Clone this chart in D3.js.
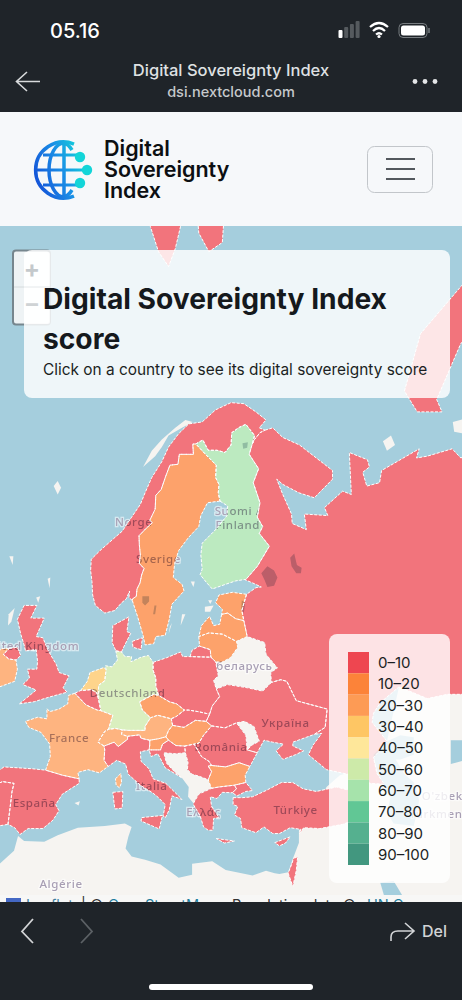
<!DOCTYPE html>
<html>
<head>
<meta charset="utf-8">
<title>Digital Sovereignty Index</title>
<script src="https://cdn.jsdelivr.net/npm/d3@7"></script>
<style>
  html, body { margin: 0; padding: 0; background: #1f2429; }
  svg { display: block; }
  text { font-family: Inter, "Noto Sans", sans-serif; }
</style>
</head>
<body>
<div id="chart"></div>
<script>
// ---- legend ----
const legendLabels = ['0–10', '10–20', '20–30', '30–40', '40–50', '50–60', '60–70', '70–80', '80–90', '90–100'];
const legendColors = ['#ee4650', '#fc8339', '#fd9b55', '#fec664', '#fee79a', '#cdeaa9', '#a6e3ab', '#61c795', '#55b08f', '#42977f'];
const legendBreaks = [10, 20, 30, 40, 50, 60, 70, 80, 90];

// ---- shared borders, [lon, lat] ----
const noSe = [[20.55,69.06],[20.1,69.05],[20.2,68.5],[18.1,68.5],[17.9,67.95],[16.7,67.9],[16.1,67.3],[15.4,66.5],[14.6,66.15],[14.5,65.3],[13.7,64.6],[14.1,64.45],[13.2,64.1],[12.1,63.6],[12.15,63.0],[12.3,62.3],[12.15,61.7],[12.85,61.35],[12.5,60.9],[12.25,60.3],[11.8,59.85],[11.7,59.3],[11.15,59.1],[11.1,58.98]];
const noFi = [[20.55,69.06],[21.6,69.27],[22.4,68.72],[23.7,68.72],[24.9,68.6],[25.8,69.0],[25.9,69.65],[27.0,69.92],[28.0,70.08],[29.3,69.5],[28.95,69.05]];
const noRu = [[28.95,69.05],[29.3,69.3],[30.1,69.65],[30.85,69.78]];
const fiSe = [[20.55,69.06],[22.0,68.5],[23.6,67.9],[23.5,67.2],[24.0,66.8],[23.9,66.3],[24.15,65.8]];
const fiRu = [[28.95,69.05],[28.5,68.5],[29.9,67.7],[29.1,66.9],[30.1,65.7],[29.7,64.8],[30.5,64.2],[30.0,63.75],[31.5,62.9],[29.7,61.5],[28.0,60.55],[27.8,60.55]];
const uaRu = [[38.2,47.1],[39.8,47.8],[40.1,49.6],[38.1,49.95],[35.5,50.4],[34.1,52.2],[33.2,52.35],[31.8,52.1]];
const uaBy = [[31.8,52.1],[30.5,51.3],[28.3,51.6],[25.3,51.9],[23.6,51.5]];
const byRu = [[31.8,52.1],[31.7,53.0],[32.7,53.4],[31.0,54.6],[30.8,55.6],[28.2,56.1]];
const lvRu = [[28.2,56.1],[27.7,57.4]];
const eeRu = [[27.7,57.4],[27.4,58.2],[28.1,59.45]];
const lvEe = [[24.4,57.9],[25.3,58.0],[26.5,57.55],[27.7,57.4]];
const ltLv = [[21.0,56.1],[22.5,56.4],[24.5,56.3],[26.6,55.7]];
const byLv = [[26.6,55.7],[28.2,56.1]];
const ltRu = [[21.1,55.3],[22.7,55.0],[22.8,54.35]];
const ltPl = [[22.8,54.35],[23.5,53.95]];
const ltBy = [[23.5,53.95],[24.4,53.9],[25.7,54.3],[26.8,55.2],[26.6,55.7]];
const plRu = [[19.7,54.4],[22.8,54.35]];
const plBy = [[23.5,53.95],[23.9,52.7],[23.2,52.3],[23.6,51.5]];
const plUa = [[23.6,51.5],[24.1,50.8],[23.0,49.9],[22.6,49.1]];
const plSk = [[22.6,49.1],[20.9,49.35],[19.5,49.5],[18.85,49.5]];
const plCz = [[18.85,49.5],[17.7,50.1],[16.6,50.3],[15.0,50.9]];
const plDe = [[15.0,50.9],[14.6,51.8],[14.6,52.5],[14.2,53.2],[14.2,53.9]];
const czDe = [[15.0,50.9],[14.3,51.0],[12.2,50.3],[12.6,49.5],[13.8,48.75]];
const atCz = [[13.8,48.75],[14.9,49.0],[16.9,48.65]];
const czSk = [[16.9,48.65],[17.7,48.9],[18.85,49.5]];
const atSk = [[16.9,48.65],[17.1,48.0]];
const huSk = [[17.1,48.0],[18.8,47.8],[20.5,48.5],[22.1,48.4]];
const skUa = [[22.6,49.1],[22.1,48.4]];
const huUa = [[22.1,48.4],[22.9,47.95]];
const roUaN = [[22.9,47.95],[24.9,47.75],[26.6,48.25]];
const mdUa = [[26.6,48.25],[27.8,48.4],[29.2,47.9],[30.0,46.4],[28.9,46.0],[28.2,45.5]];
const mdRo = [[26.6,48.25],[28.0,47.0],[28.2,45.5]];
const roUaS = [[28.2,45.5],[29.7,45.2]];
const roBg = [[28.6,43.75],[27.0,44.15],[25.0,43.7],[22.9,43.85]];
const roRs = [[22.9,43.85],[22.5,44.3],[21.4,44.8],[20.3,46.1]];
const roHu = [[20.3,46.1],[21.0,46.2],[21.7,47.0],[22.9,47.95]];
const huRs = [[20.3,46.1],[18.9,45.9]];
const huHr = [[18.9,45.9],[17.6,45.95],[16.5,46.5]];
const huSi = [[16.5,46.5],[16.1,46.85]];
const huAt = [[16.1,46.85],[16.5,47.5],[17.1,48.0]];
const siAt = [[16.1,46.85],[15.0,46.65],[13.7,46.5]];
const itAt = [[13.7,46.5],[12.4,46.7],[12.2,47.05],[10.4,46.9]];
const atCh = [[10.4,46.9],[9.5,47.1],[9.6,47.55]];
const deAt = [[9.6,47.55],[10.5,47.5],[13.0,47.5],[13.0,47.9],[13.8,48.75]];
const deCh = [[9.6,47.55],[8.6,47.7],[7.55,47.6]];
const deFr = [[7.55,47.6],[8.2,49.0],[6.4,49.45]];
const deBe = [[6.4,49.45],[6.2,50.15],[6.0,50.75]];
const deNl = [[6.0,50.75],[6.1,51.85],[7.0,52.25],[7.2,53.25]];
const deDk = [[8.65,54.9],[9.5,54.8]];
const nlBe = [[6.0,50.75],[5.8,51.15],[5.0,51.45],[4.4,51.4],[3.4,51.35]];
const frBe = [[6.4,49.45],[5.9,49.5],[4.2,50.0],[2.55,51.1]];
const esFr = [[-1.8,43.35],[0.7,42.8],[3.2,42.4]];
const frIt = [[7.5,43.75],[6.9,44.4],[7.0,45.5],[6.9,45.9]];
const frCh = [[6.9,45.9],[6.0,46.3],[7.0,47.4],[7.55,47.6]];
const chIt = [[10.4,46.9],[10.4,46.6],[9.0,45.85],[8.4,46.3],[6.9,45.9]];
const siIt = [[13.7,46.5],[13.7,46.0],[13.6,45.5]];
const siHr = [[16.5,46.5],[15.6,46.1],[15.3,45.5],[13.6,45.5]];
const hrInnerA = [[18.9,45.9],[19.0,45.2]];
const hrInnerB = [[19.0,45.2],[17.5,45.1],[15.8,45.2],[16.2,44.1],[17.6,43.0],[18.5,42.5]];
const bgW1 = [[22.9,41.35],[22.4,42.3]];
const bgW2 = [[22.4,42.3],[22.9,43.2],[22.4,43.8],[22.9,43.85]];
const srS = [[22.4,42.3],[21.0,42.7],[20.0,42.9],[19.3,43.4],[19.4,44.2],[19.0,45.2]];
const grBg = [[26.3,41.7],[24.0,41.5],[22.9,41.35]];
const grW = [[20.2,39.65],[21.0,40.7],[22.9,41.35]];
const bgTr = [[28.0,42.0],[26.3,41.7]];
const ptEs = [[-8.8,41.9],[-8.2,42.1],[-6.5,41.9],[-6.8,41.0],[-7.0,39.7],[-7.4,37.2]];

const rev = a => a.slice().reverse();

// ---- coasts and the rings built from them ----
const norway = [[[11.1,58.98],[10.6,59.2],[10.7,59.7],[10.2,59.1],[9.5,58.8],[8.5,58.2],[7.0,58.0],[5.6,58.6],[5.2,59.4],[5.1,60.4],[4.9,61.2],[5.0,62.0],[6.3,62.6],[8.3,63.4],[9.6,63.9],[11.0,64.8],[12.3,65.6],[13.0,66.3],[14.0,67.2],[15.5,68.1],[16.5,68.9],[18.0,69.6],[19.5,70.1],[21.5,70.2],[23.5,70.8],[25.8,71.15],[27.7,71.1],[29.5,70.7],[31.0,70.3],[30.0,69.9],[30.85,69.78], ...rev(noRu), ...rev(noFi), ...noSe],
  [[11,79.3],[14,80],[20,80.2],[18.5,78.2],[17.5,77.3],[16.5,76.7],[15,77.2],[13.8,78]],
  [[20.5,79],[25,79],[24.5,77.5],[22.5,77.2],[21,77.8]]];
const sweden = [[[24.15,65.8],[22.3,65.7],[21.3,64.9],[21.0,64.2],[19.5,63.5],[18.0,62.6],[17.4,61.7],[17.2,60.7],[18.5,60.2],[18.8,59.7],[17.0,58.7],[16.6,57.5],[16.0,56.2],[14.6,56.1],[14.3,55.5],[13.0,55.4],[12.7,56.2],[11.9,57.7],[11.1,58.98], ...rev(noSe), ...fiSe]];
const finland = [[[24.15,65.8],[25.3,65.5],[25.2,64.9],[23.5,64.0],[21.5,63.1],[21.3,62.3],[21.5,61.3],[21.2,60.9],[22.2,60.3],[23.0,59.85],[25.0,60.2],[26.5,60.45],[27.8,60.55], ...rev(fiRu), ...rev(noFi), ...fiSe]];
const russia = [[[30.85,69.78],[32,69.9],[33.5,69.4],[36,69],[40.9,67.6],[40.9,67.1],[38.2,66],[35.9,66.3],[33.5,66.8],[32.6,67.1],[33.5,66.2],[34.8,65],[34.9,64.4],[37,64],[36.7,65],[40.2,64.9],[39.7,65.4],[42.4,66.4],[43.7,66.2],[43.4,68.6],[46.1,68.2],[46.4,67.8],[45.4,67.5],[46,66.7],[47.9,66.9],[48.2,67.6],[53.8,68.8],[53.4,68.3],[55,68.4],[58.7,68.8],[60,68.3],[64,69],[70,69],[70,55],[61,54],[61.5,51],[58,51],[55,50.6],[50.8,51.7],[48,50.2],[47,49.2],[46.8,48.3],[49,46.4],[48,45.5],[47,44.7],[47.5,43],[48.6,41.8],[46.5,41.9],[44.5,42.7],[40,43.4],[39,44],[37.3,45],[38,46],[39.3,47.2], ...uaRu, ...byRu, ...lvRu, ...eeRu,[29.5,59.95],[30.3,60],[29,60.3],[27.8,60.55], ...rev(fiRu), ...noRu],
  [[51.6,71.7],[54,74.2],[60,76],[62,76.5],[68,77],[70,76],[63,74.5],[60,73.8],[56.4,71.3],[57.2,70.7],[53.5,70.7]]];
const estonia = [[[28.1,59.45],[26,59.6],[24,59.4],[23.5,58.8],[24.5,58.3],[24.4,57.9], ...lvEe, ...eeRu]];
const latvia = [[[24.4,57.9],[24.1,57.1],[23.2,57],[22.6,57.75],[21.4,57],[21,56.1], ...ltLv, ...byLv, ...lvRu, ...rev(lvEe)]];
const lithuania = [[[21,56.1],[21.1,55.3], ...ltRu, ...ltPl, ...ltBy, ...rev(ltLv)]];
const kaliningrad = [[[19.7,54.4],[20,54.95],[21.1,55.3], ...ltRu, ...rev(plRu)]];
const poland = [[[14.2,53.9],[16.2,54.3],[18.3,54.8],[18.6,54.4],[19.7,54.4], ...plRu, ...ltPl, ...plBy, ...plUa, ...plSk, ...plCz, ...plDe]];
const ukraine = [[...uaBy, ...plUa, ...skUa, ...huUa, ...roUaN, ...mdUa, ...roUaS,[30.7,46.5],[32,46.3],[33.6,46.1],[32.5,45.4],[33.5,44.5],[35.4,45],[36.6,45.4],[35,45.9],[35,46.3],[37,46.8], ...uaRu]];
const romania = [[...roUaN, ...mdRo, ...roUaS,[28.6,43.75], ...roBg, ...roRs, ...roHu]];
const hungary = [[...huSk, ...huUa, ...rev(roHu), ...huRs, ...huHr, ...huSi, ...huAt]];
const slovakia = [[...czSk, ...rev(plSk), ...skUa, ...rev(huSk), ...rev(atSk)]];
const czechia = [[...czDe, ...atCz, ...czSk, ...plCz]];
const austria = [[...deAt, ...atCz, ...atSk, ...rev(huAt), ...siAt, ...itAt, ...atCh]];
const germany = [[...deDk,[10,54.4],[11,54.4],[10.9,53.95],[12.4,54.35],[13.5,54.5],[14.2,53.9], ...rev(plDe), ...czDe, ...rev(deAt), ...deCh, ...deFr, ...deBe, ...deNl,[7.1,53.6],[8.1,53.5],[8.6,53.9],[8.9,54.1]]];
const denmark = [[[9.5,54.8],[9.9,55.3],[10.9,56.4],[10.3,56.5],[10.6,57.7],[8.2,57],[8.1,55.6],[8.65,54.9]],
  [[11.1,55.7],[12.6,56],[12.4,55],[11.2,55.2]]];
const netherlands = [[[3.4,51.35],[4.4,52.2],[4.8,53],[6.9,53.45],[7.2,53.25], ...rev(deNl), ...nlBe]];
const belgium = [[[2.55,51.1],[3.4,51.35], ...rev(nlBe), ...rev(deBe), ...frBe]];
const france = [[[2.55,51.1],[1.6,50.9],[1.5,50.1],[0.2,49.6],[-1.2,49.35],[-1.6,49.65],[-1.6,48.65],[-3,48.8],[-4.8,48.4],[-4.3,47.8],[-2.5,47.3],[-1.2,46.1],[-1.1,44.8], ...esFr,[3,43.1],[4.5,43.4],[6.2,43.05], ...frIt, ...frCh, ...deFr, ...frBe],
  [[8.6,42.4],[9.4,43],[9.5,42],[9.2,41.4],[8.7,41.7]]];
const switzerland = [[...frCh, ...rev(deCh), ...rev(atCh), ...chIt]];
const italy = [[...siIt,[12.3,45.3],[12.4,44.3],[13.6,43.5],[14.2,42.4],[16.1,41.9],[18.5,40.1],[17,40.5],[16.6,38.9],[16,37.95],[15.7,38.2],[16,39.5],[15,40.3],[14.2,40.8],[12.3,41.7],[10.5,42.9],[10.1,44],[8.8,44.4], ...frIt, ...rev(chIt), ...rev(itAt)],
  [[12.5,38],[15.6,38.25],[15.1,36.65],[12.4,37.6]],
  [[8.2,40.9],[9.7,41],[9.6,39.1],[8.5,39]]];
const slovenia = [[...rev(siAt), ...rev(huSi), ...siHr, ...rev(siIt)]];
const croatia = [[...rev(siHr), ...rev(huHr), ...hrInnerA, ...hrInnerB,[16,43.6],[14.9,45.1],[13.9,44.8]]];
const serbia = [[...rev(huRs), ...rev(roRs), ...rev(bgW2), ...srS, ...rev(hrInnerA)]];
const bulgaria = [[...rev(roBg),[27.9,42.8], ...bgTr, ...grBg, ...bgW1, ...bgW2]];
const greece = [[...rev(grBg),[26.6,41.3],[26,40.85],[24.5,40.9],[23.7,40.2],[22.7,40.4],[22.9,39.3],[24,38],[23.2,37.9],[23.1,36.5],[22.4,36.5],[21.7,36.9],[21.2,38.2],[20.2,39.5], ...grW],
  [[23.6,35.5],[26.3,35.2],[24.8,34.95]]];
const turkey = [[[26.1,40.3],[27.5,40.3],[29,40.4],[31,41.1],[33.3,42],[35,42],[36.5,41.3],[38.5,41],[41.5,41.5],[43.5,41.1],[43.8,40],[44.8,39.7],[44.5,37.8],[42.4,37.2],[39,36.7],[36.6,36.8],[36,36.1],[36.2,36.6],[34.6,36.8],[33,36.1],[32,36.1],[30.7,36.9],[29.5,36.2],[27.4,36.8],[27.2,37.9],[26.3,38.3],[26.8,39.3],[26.1,39.5]],
  [...rev(bgTr),[29,41.1],[28,41],[26.7,40.5],[26,40.85],[26.6,41.3]]];
const cyprus = [[[32.3,35],[33.6,35.4],[34.6,35.7],[33.9,34.95],[33,34.6]]];
const israel = [[[35.1,33.1],[35.7,33.2],[35.5,31.5],[35,29.5],[34.3,31.2],[34.9,32.5]]];
const spain = [[...rev(esFr),[-3.8,43.5],[-8,43.7],[-9.3,43], ...ptEs,[-6.4,36.8],[-5.6,36],[-4.4,36.7],[-2.2,36.7],[-0.7,37.7],[0.2,38.8],[-0.3,39.5],[0.7,40.7],[3.2,41.9]]];
const portugal = [[...rev(ptEs),[-9.5,38.8],[-8.9,37]]];
const uk = [[[-5.7,50.1],[-3.5,50.3],[-1.2,50.75],[1.4,51.2],[0.8,51.6],[1.7,52.7],[0.2,53],[-0.2,53.7],[-1.5,55],[-2.2,56],[-3.2,56.1],[-2,57.6],[-4,57.6],[-3.1,58.6],[-5,58.6],[-6,57.5],[-5.5,56.3],[-5,55.4],[-4.8,54.9],[-3.2,55],[-3,54],[-3.1,53.3],[-4.5,53.3],[-4.2,52.5],[-5.2,51.9],[-3.2,51.4]],
  [[-7.2,55.1],[-6,55.2],[-5.5,54.5],[-6.2,54.1],[-7.3,54.2],[-8.1,54.6]]];
const ireland = [[[-7.2,55.1],[-8.3,55.1],[-10,54.2],[-9.3,53.2],[-10.2,52],[-9.5,51.5],[-6.4,52.2],[-6,53.3],[-6.2,54.1],[-7.3,54.2],[-8.1,54.6]]];

// scored countries
const countryNames = ['Norway','Sweden','Finland','Russia','Estonia','Latvia','Lithuania','Kaliningrad','Poland','Ukraine','Romania','Hungary','Slovakia','Czechia','Austria','Germany','Denmark','Netherlands','Belgium','France','Switzerland','Italy','Slovenia','Croatia','Serbia','Bulgaria','Greece','Turkey','Cyprus','Israel','Spain','Portugal','United Kingdom','Ireland'];
const countryScores = [6,16,65,4,17,18,18,4,8,7,7,16,8,15,24,55,8,35,7,26,25,8,17,7,6,17,7,6,6,6,8,7,8,25];
const countryRings = [norway,sweden,finland,russia,estonia,latvia,lithuania,kaliningrad,poland,ukraine,romania,hungary,slovakia,czechia,austria,germany,denmark,netherlands,belgium,france,switzerland,italy,slovenia,croatia,serbia,bulgaria,greece,turkey,cyprus,israel,spain,portugal,uk,ireland];

// ---- unscored land and water under the overlay ----
const belarus = [...rev(uaBy), ...byRu, ...rev(byLv), ...rev(ltBy), ...plBy];
const moldova = [...mdUa, ...rev(mdRo)];
const westBalkans = [...rev(hrInnerB), ...rev(srS), ...rev(bgW1), ...rev(grW),[19.4,40.4],[19.5,41.5]];
const africa = [[-20,20],[-20,31],[-9.8,31.5],[-6.5,34],[-5.9,35.8],[-5,35.2],[-2,35.1],[0,35.9],[3,36.8],[7,37],[10,37.3],[11,36.9],[10.5,35.7],[10.1,34.3],[11,33.3],[13,32.9],[15.3,32.3],[18,30.6],[20,31],[20,32.4],[23,32.7],[25,31.6],[29,30.9],[31,31.5],[32.3,31.2],[33,31.1],[34.3,31.3],[35,33],[35.9,35],[35.9,36.5],[38,38],[40,41.5],[42,42.8],[44,43.2],[48.6,41.8],[47.5,43],[47,44.7],[48,45.5],[49,46.4],[50.8,51.7],[61.5,52],[80,52],[80,20]];
const smallIslands = [
  [[-0.6,66.7],[0,67],[0.5,66.6],[0,66.2]],
  [[-7.2,62.2],[-6.6,62.2],[-6.7,61.6]],
  [[-1.5,60.6],[-1.1,60.7],[-1.2,59.9]],
  [[-3.2,59.2],[-2.6,59.3],[-2.9,58.8]],
  [[-7.3,57.9],[-6.4,58.4],[-6.9,57.3],[-7.4,57]],
  [[12.7,67.8],[14.5,68.4],[15.5,68.9],[16.5,69.5],[18.5,69.9],[20.1,70.2],[19,70.3],[17.5,69.9],[15.5,69.3],[14,68.7]],
  [[18.5,57.9],[19,57.9],[18.3,57]],
  [[16.7,56.9],[17,57.2],[16.5,56.3]],
  [[19.8,60.4],[20.4,60.4],[20.2,60.0]],
  [[21.9,58.5],[23.2,58.6],[22.7,58.1],[21.9,58.1]],
  [[22.4,59.0],[23,59],[22.7,58.7]],
  [[2.5,39.7],[3.3,39.9],[3.1,39.4]],
  [[48.4,69.2],[49.6,69.5],[50.2,69],[49,68.7]],
  [[58.8,70.2],[61,70.4],[60.5,69.6],[59,69.7]]
];
const waters = [
  [[47,45],[49,46.4],[51,47],[53,46.8],[53,45],[51,44.5],[50.3,44.5],[51.5,43],[53,42],[53.8,40],[53,37],[50,37.3],[49,38.5],[49.5,40.3],[47.6,43]],
  [[48,30],[50,30.2],[51.5,28],[49,27]],
  [[58.5,46.5],[61,46.5],[61,44.5],[58.5,44]]
];
const lakes = [
  [[31.2,61.5],[32.2,61.2],[32.7,60.7],[32.2,60.1],[31.2,60],[30.8,60.5],[30.3,61]],
  [[35.2,62.4],[35.6,61.6],[36.3,61.4],[36.2,61],[35.5,61],[34.8,61.5],[34.6,62.1]],
  [[12.6,59.3],[13.6,59.3],[13.6,58.9],[13,58.6],[12.6,58.8]],
  [[14.4,58.6],[14.7,58.6],[14.5,57.9],[14.2,57.9]],
  [[27.5,69.1],[28.3,69.15],[28.2,68.85],[27.6,68.8]],
  [[27.4,59],[27.9,58.8],[27.7,58],[27.3,58.3]]
];

// ---- basemap labels ----
const mapLabels = ['Norge','Sverige','Suomi /','Finland','United Kingdom','беларусь','Deutschland','France','España','Italia','România','Україна','Ελλάς','Türkiye','Algérie',"O'zbekiston",'Türkmenistan'];
const mapLabelLons = [11.3,15,26.8,26.8,-4.1,27.8,10.4,1.7,-3.5,14,24.3,33.9,21.7,35.4,0.5,59.5,58.5];
const mapLabelLats = [64.5,62,65.2,64.3,55.3,53.6,51.1,46.7,39.7,41.6,45.8,48.2,38.6,38.9,29.8,40.5,38.4];

// ---- attribution ----
const attributionParts = ['Leaflet', '|', '©', 'OpenStreetMap', 'Population data ©', 'UN Census'];
const attributionXs = [26, 81, 90, 108, 232, 367];

const width = 462, height = 1000;
const dark = '#1f2429';

const svg = d3.select('#chart').append('svg').attr('width', width).attr('height', height);

const projection = d3.geoMercator().scale(385).translate([57.7, 1094]);
const ringPath = d3.line(d => projection(d)[0], d => projection(d)[1]);
const closed = ring => ringPath(ring) + 'Z';

const colorScale = d3.scaleThreshold().domain(legendBreaks).range(legendColors);

const defs = svg.append('defs');
defs.append('clipPath').attr('id', 'map-clip').append('rect')
  .attr('x', 0).attr('y', 226).attr('width', width).attr('height', 670);
const grad = defs.append('linearGradient').attr('id', 'logo-grad')
  .attr('gradientUnits', 'userSpaceOnUse')
  .attr('x1', 36).attr('y1', 182).attr('x2', 90).attr('y2', 162);
grad.append('stop').attr('offset', 0).attr('stop-color', '#1454d8');
grad.append('stop').attr('offset', 0.5).attr('stop-color', '#1a8fe6');
grad.append('stop').attr('offset', 1).attr('stop-color', '#12dcd8');

// ---- map ----
const map = svg.append('g').attr('clip-path', 'url(#map-clip)').style('isolation', 'isolate');
map.append('rect').attr('x', 0).attr('y', 226).attr('width', width).attr('height', 670).attr('fill', '#a5cedd');

const land = map.append('g').attr('fill', '#f6f4f1');
land.selectAll('.continent').data([africa, belarus, moldova, westBalkans]).join('path').attr('d', closed);
land.selectAll('.island').data(smallIslands).join('path').attr('d', closed);
// white under the scored countries keeps their tints as bright as in the legend
map.append('g').attr('fill', '#fff').selectAll('path').data(countryRings.flat()).join('path').attr('d', closed);

map.append('g').attr('fill', '#a5cedd').selectAll('path').data(waters).join('path').attr('d', closed);
map.append('g').attr('fill', '#c5ced8').selectAll('path').data(lakes).join('path').attr('d', closed);

map.append('g').selectAll('text').data(mapLabels).join('text')
  .attr('x', (d, i) => projection([mapLabelLons[i], mapLabelLats[i]])[0])
  .attr('y', (d, i) => projection([mapLabelLons[i], mapLabelLats[i]])[1] + 4)
  .attr('text-anchor', 'middle')
  .style('font-family', '"Noto Sans", sans-serif')
  .style('font-size', '11.5px')
  .style('letter-spacing', '0.6px')
  .style('font-weight', 500)
  .style('paint-order', 'stroke')
  .attr('fill', '#a89fb4')
  .attr('stroke', 'rgba(255,255,255,0.55)')
  .attr('stroke-width', 2.5)
  .text(d => d);

// fills multiply over the tiles so the labels and lakes darken through them
const countries = map.append('g').selectAll('path').data(countryRings).join('path')
  .attr('d', d => d.map(closed).join(''))
  .attr('fill', (d, i) => colorScale(countryScores[i]))
  .attr('fill-opacity', 0.75)
  .style('mix-blend-mode', 'multiply');
countries.append('title').text((d, i) => countryNames[i]);

map.append('g').selectAll('path').data(countryRings).join('path')
  .attr('d', d => d.map(closed).join(''))
  .attr('fill', 'none')
  .attr('stroke', '#fff')
  .attr('stroke-width', 1)
  .attr('stroke-dasharray', '3 1.5');

// attribution strip, cut off by the toolbar below
svg.append('rect').attr('x', 0).attr('y', 895).attr('width', width).attr('height', 8).attr('fill', '#f7f7f6');
svg.append('rect').attr('x', 6).attr('y', 898).attr('width', 15).attr('height', 5).attr('fill', '#4468c4');
svg.append('g').selectAll('text').data(attributionParts).join('text')
  .attr('x', (d, i) => attributionXs[i])
  .attr('y', 910)
  .style('font-size', '14.5px')
  .attr('fill', (d, i) => (i === 3 || i === 5) ? '#1f7f9e' : (i === 0 ? '#3f7fa0' : '#333'))
  .text(d => d);

// ---- zoom control, sits partly under the title card ----
svg.append('rect').attr('x', 13).attr('y', 250.5).attr('width', 37).attr('height', 74).attr('rx', 3)
  .attr('fill', '#eef3f5').attr('stroke', '#76868e').attr('stroke-width', 2);
svg.append('line').attr('x1', 14).attr('x2', 24).attr('y1', 287).attr('y2', 287).attr('stroke', '#cfd6da');

// ---- title card ----
svg.append('rect').attr('x', 24).attr('y', 250).attr('width', 426).attr('height', 148).attr('rx', 8)
  .attr('fill', '#fff').attr('fill-opacity', 0.82);
svg.append('rect').attr('x', 24).attr('y', 252).attr('width', 26).attr('height', 72).attr('rx', 2)
  .attr('fill', '#fff').attr('fill-opacity', 0.75);
svg.append('line').attr('x1', 14).attr('x2', 50).attr('y1', 287).attr('y2', 287).attr('stroke', '#e4e8ea');
svg.append('text').attr('x', 32).attr('y', 277).attr('text-anchor', 'middle').attr('fill', '#c4c9cc')
  .style('font-size', '24px').style('font-weight', 700).text('+');
svg.append('text').attr('x', 32).attr('y', 312).attr('text-anchor', 'middle').attr('fill', '#cfd3d5')
  .style('font-size', '24px').style('font-weight', 700).text('–');

svg.append('text').attr('x', 43).attr('y', 309).attr('fill', '#15191d')
  .style('font-size', '28.2px').style('font-weight', 700).text('Digital Sovereignty Index');
svg.append('text').attr('x', 43).attr('y', 349).attr('fill', '#15191d')
  .style('font-size', '28.2px').style('font-weight', 700).text('score');
svg.append('text').attr('x', 43).attr('y', 374.5).attr('fill', '#1b1f23')
  .style('font-size', '15.4px').text('Click on a country to see its digital sovereignty score');

// ---- legend ----
svg.append('rect').attr('x', 329).attr('y', 634).attr('width', 121).attr('height', 249).attr('rx', 8)
  .attr('fill', '#fff').attr('fill-opacity', 0.8);
const legendY = d3.scaleBand().domain(legendLabels).range([652, 865]);
const legendRows = svg.append('g').selectAll('g').data(legendLabels).join('g')
  .attr('transform', d => `translate(0,${legendY(d)})`);
legendRows.append('rect').attr('x', 348).attr('width', 21).attr('height', legendY.bandwidth())
  .attr('fill', (d, i) => legendColors[i]);
legendRows.append('text').attr('x', 378).attr('y', legendY.bandwidth() / 2 + 5.5)
  .attr('fill', '#1b1f23').style('font-size', '15px').text(d => d);

// ---- site header ----
svg.append('rect').attr('x', 0).attr('y', 112).attr('width', width).attr('height', 114).attr('fill', '#f6f8fa');
const logo = svg.append('g').attr('fill', 'none').attr('stroke', 'url(#logo-grad)').attr('stroke-width', 3.5);
logo.append('path').attr('d', 'M74 144 A28 28 0 1 0 74 196');
logo.append('path').attr('d', 'M64 143 A15 27 0 0 0 64 197 M64 143 V197 M64 143 A15 27 0 0 1 72 150 M64 197 A15 27 0 0 0 72 190');
logo.append('path').attr('d', 'M43 155 H80 M36 170 H87 M43 185 H80').attr('stroke-width', 3);
logo.selectAll('circle').data([[80, 157], [87, 170], [80, 183]]).join('circle')
  .attr('cx', d => d[0]).attr('cy', d => d[1]).attr('r', 5.2)
  .attr('fill', '#13d5d8').attr('stroke', 'none');
const logoWords = ['Digital', 'Sovereignty', 'Index'];
svg.append('g').selectAll('text').data(logoWords).join('text')
  .attr('x', 104).attr('y', (d, i) => 156 + i * 21)
  .attr('fill', '#0c0f12').style('font-size', '21.5px').style('font-weight', 600).text(d => d);
svg.append('rect').attr('x', 367.5).attr('y', 146.5).attr('width', 65).attr('height', 46).attr('rx', 7)
  .attr('fill', 'none').attr('stroke', '#c2c6ca');
svg.append('g').attr('stroke', '#53585d').attr('stroke-width', 2).selectAll('line').data([159, 169, 179]).join('line')
  .attr('x1', 386).attr('x2', 415).attr('y1', d => d).attr('y2', d => d);

// ---- phone chrome, top ----
svg.append('rect').attr('x', 0).attr('y', 0).attr('width', width).attr('height', 112).attr('fill', dark);
svg.append('text').attr('x', 50).attr('y', 38).attr('fill', '#fff').style('font-size', '20px').style('font-weight', 500).text('05.16');
svg.append('g').selectAll('rect').data([0, 1, 2, 3]).join('rect')
  .attr('x', d => 338.5 + d * 5.7).attr('y', d => 34 - d * 3 - 4).attr('width', 4).attr('height', d => 4 + d * 3 + 4).attr('rx', 1)
  .attr('fill', (d, i) => i === 0 ? '#fff' : '#555a5e');
svg.append('path').attr('d', 'M370 27 Q379 19 388 27 M373 31 Q379 25 385 31 M376 34.5 Q379 32 382 34.5')
  .attr('fill', 'none').attr('stroke', '#fff').attr('stroke-width', 2.2);
svg.append('circle').attr('cx', 379).attr('cy', 36.5).attr('r', 1.6).attr('fill', '#fff');
svg.append('rect').attr('x', 399).attr('y', 23.5).attr('width', 28).attr('height', 14).attr('rx', 4)
  .attr('fill', 'none').attr('stroke', '#777c80');
svg.append('rect').attr('x', 401).attr('y', 25.5).attr('width', 24).attr('height', 10).attr('rx', 2.5).attr('fill', '#fff');
svg.append('path').attr('d', 'M429 28 V33').attr('stroke', '#777c80').attr('stroke-width', 1.5);

svg.append('text').attr('x', 231).attr('y', 76).attr('text-anchor', 'middle').attr('fill', '#dfe1e3')
  .style('font-size', '16.5px').style('font-weight', 500).text('Digital Sovereignty Index');
svg.append('text').attr('x', 231).attr('y', 97).attr('text-anchor', 'middle').attr('fill', '#c6c9cc')
  .style('font-size', '14.5px').style('font-weight', 500).text('dsi.nextcloud.com');
svg.append('path').attr('d', 'M40 81.5 H17 M27 72 L16.5 81.5 L27 91').attr('fill', 'none').attr('stroke', '#d8dadc').attr('stroke-width', 1.6);
svg.append('g').attr('fill', '#e4e6e8').selectAll('circle').data([415, 425, 435]).join('circle')
  .attr('cx', d => d).attr('cy', 81.5).attr('r', 2.4);

// ---- phone chrome, bottom ----
svg.append('rect').attr('x', 0).attr('y', 902).attr('width', width).attr('height', 98).attr('fill', dark);
svg.append('path').attr('d', 'M33 919 L22 931.5 L33 943').attr('fill', 'none').attr('stroke', '#d2d4d6').attr('stroke-width', 1.8);
svg.append('path').attr('d', 'M81 919 L92 931.5 L81 943').attr('fill', 'none').attr('stroke', '#5c6165').attr('stroke-width', 1.8);
svg.append('path').attr('d', 'M391 941 V937 Q391 931 398 931 H413 M405 923 L414 931 L405 939').attr('fill', 'none').attr('stroke', '#d2d4d6').attr('stroke-width', 1.6);
svg.append('text').attr('x', 422).attr('y', 936.5).attr('fill', '#d2d4d6').style('font-size', '16px').style('font-weight', 500).text('Del');
svg.append('rect').attr('x', 149).attr('y', 984).attr('width', 164).attr('height', 6).attr('rx', 3).attr('fill', '#fff');
</script>
</body>
</html>
